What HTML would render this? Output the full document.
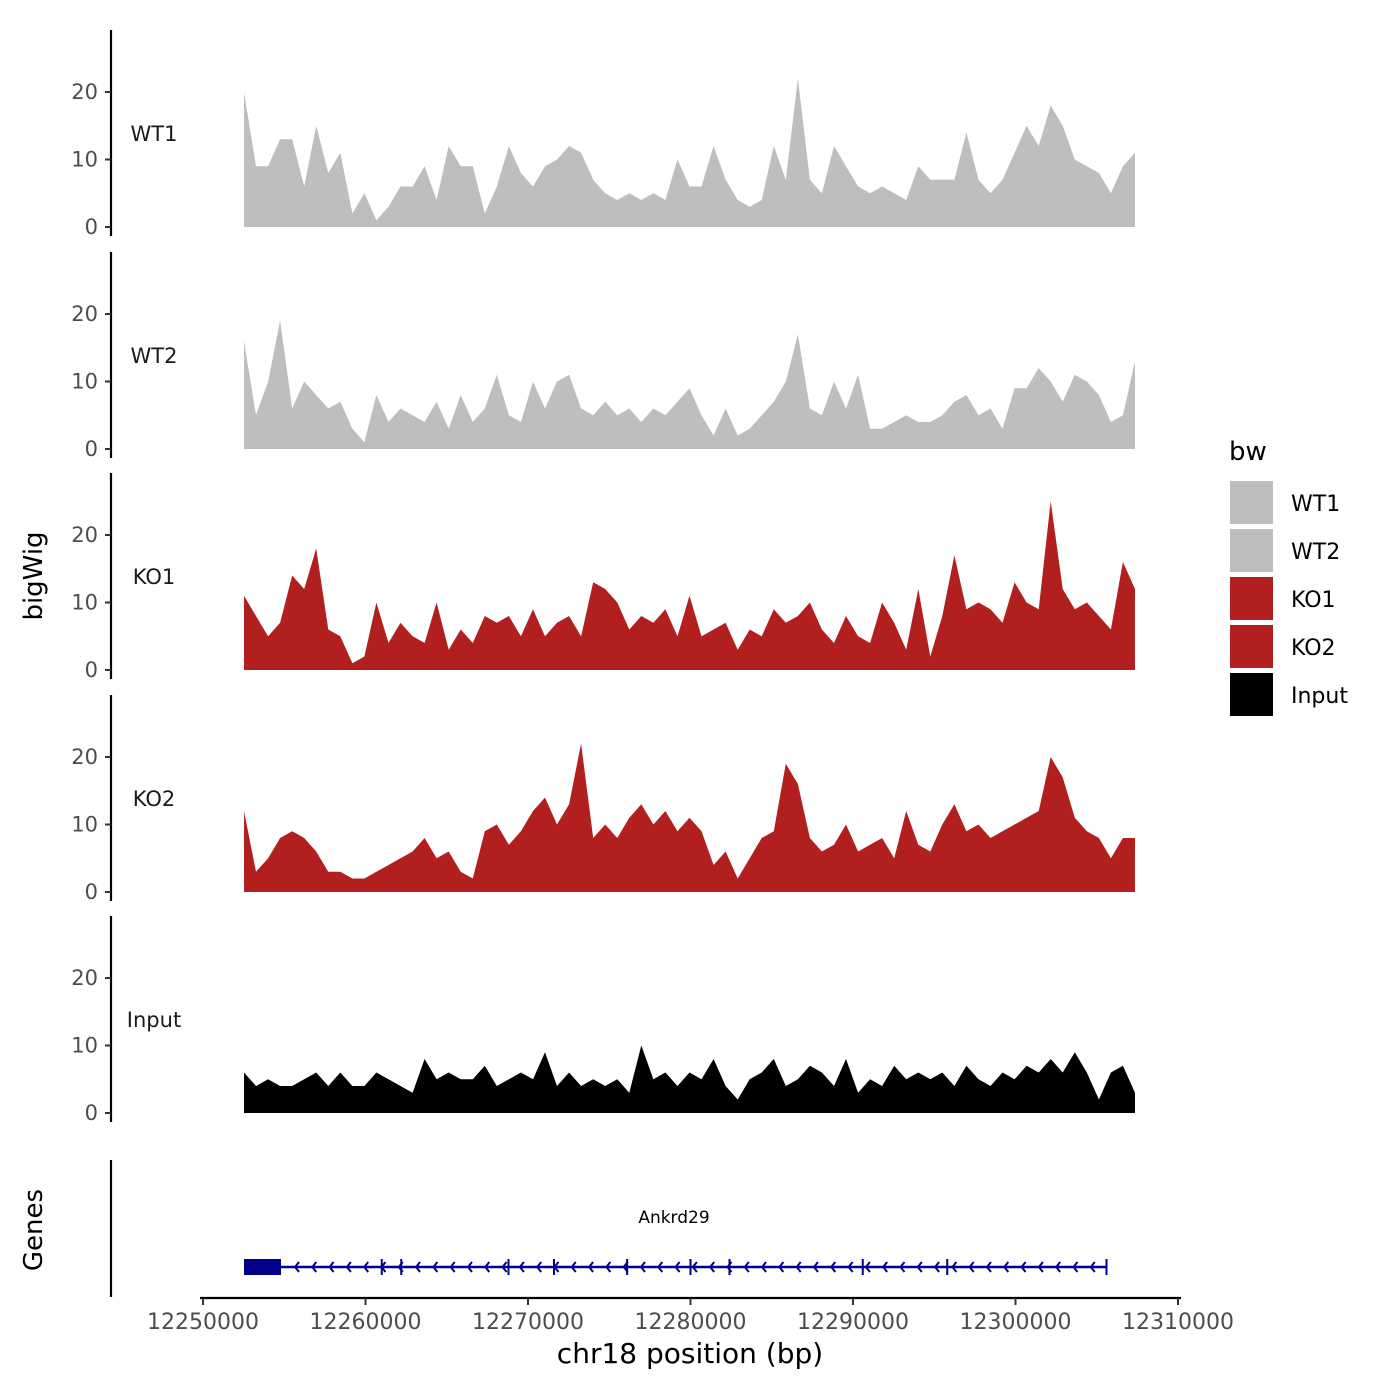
<!DOCTYPE html>
<html><head><meta charset="utf-8">
<style>
html,body{margin:0;padding:0;background:#fff;}
svg{display:block;font-family:"DejaVu Sans","Liberation Sans",sans-serif;}
</style></head>
<body>
<svg id="chart" width="1400" height="1400" viewBox="0 0 1400 1400" xmlns="http://www.w3.org/2000/svg">
<rect width="1400" height="1400" fill="#fff"/>
<g id="panels"></g>
<g id="genes"></g>
<g id="xaxis"></g>
<text x="42" y="576" font-size="26" fill="#000" text-anchor="middle" transform="rotate(-90 42 576)">bigWig</text>
<text x="42" y="1230" font-size="26" fill="#000" text-anchor="middle" transform="rotate(-90 42 1230)">Genes</text>
<text x="690" y="1363" font-size="28" fill="#000" text-anchor="middle">chr18 position (bp)</text>
<g id="legend"></g>
</svg>
<script>
const NS="http://www.w3.org/2000/svg";
const trackNames=["WT1","WT2","KO1","KO2","Input"];
const trackColors=["#bebebe","#bebebe","#b21f1f","#b21f1f","#000000"];
const binStart=12252523, binEnd=12307353;
const wt1=[20,9,9,13,13,6,15,8,11,2,5,1,3,6,6,9,4,12,9,9,2,6,12,8,6,9,10,12,11,7,5,4,5,4,5,4,10,6,6,12,7,4,3,4,12,7,22,7,5,12,9,6,5,6,5,4,9,7,7,7,14,7,5,7,11,15,12,18,15,10,9,8,5,9,11];
const wt2=[16,5,10,19,6,10,8,6,7,3,1,8,4,6,5,4,7,3,8,4,6,11,5,4,10,6,10,11,6,5,7,5,6,4,6,5,7,9,5,2,6,2,3,5,7,10,17,6,5,10,6,11,3,3,4,5,4,4,5,7,8,5,6,3,9,9,12,10,7,11,10,8,4,5,13];
const ko1=[11,8,5,7,14,12,18,6,5,1,2,10,4,7,5,4,10,3,6,4,8,7,8,5,9,5,7,8,5,13,12,10,6,8,7,9,5,11,5,6,7,3,6,5,9,7,8,10,6,4,8,5,4,10,7,3,12,2,8,17,9,10,9,7,13,10,9,25,12,9,10,8,6,16,12];
const ko2=[12,3,5,8,9,8,6,3,3,2,2,3,4,5,6,8,5,6,3,2,9,10,7,9,12,14,10,13,22,8,10,8,11,13,10,12,9,11,9,4,6,2,5,8,9,19,16,8,6,7,10,6,7,8,5,12,7,6,10,13,9,10,8,9,10,11,12,20,17,11,9,8,5,8,8];
const inputVals=[6,4,5,4,4,5,6,4,6,4,4,6,5,4,3,8,5,6,5,5,7,4,5,6,5,9,4,6,4,5,4,5,3,10,5,6,4,6,5,8,4,2,5,6,8,4,5,7,6,4,8,3,5,4,7,5,6,5,6,4,7,5,4,6,5,7,6,8,6,9,6,2,6,7,3];
const yTicks=[0,10,20];
const xTicks=[12250000,12260000,12270000,12280000,12290000,12300000,12310000];
const geneName="Ankrd29";
const geneStart=12252523, geneEnd=12305600, geneThickEnd=12254800;
const exonPos=[12261000,12262200,12268800,12271600,12276100,12280000,12282400,12290600,12295800];

const series=[wt1,wt2,ko1,ko2,inputVals];
const zeros=[227,449,670,892,1113];
const pxPerUnit=6.75;
function xs(bp){return 203+(bp-12250000)*975/60000;}
function mk(tag,attrs,parent){const e=document.createElementNS(NS,tag);for(const k in attrs)e.setAttribute(k,attrs[k]);parent.appendChild(e);return e;}

const panels=document.getElementById('panels');
series.forEach((vals,si)=>{
  const z=zeros[si];
  const ys=v=>z-v*pxPerUnit;
  const g=mk('g',{},panels);
  
  
  const n=vals.length;
  let d='M'+xs(binStart)+','+z;
  vals.forEach((v,i)=>{const bp=binStart+(binEnd-binStart)*i/(n-1);d+=' L'+xs(bp).toFixed(1)+','+ys(v).toFixed(1);});
  d+=' L'+xs(binEnd)+','+z+' Z';
  const a=mk('path',{d:d,fill:trackColors[si]},g);
  
  
  const ax=mk('line',{x1:111,x2:111,y1:z-197,y2:z+9,stroke:'#000','stroke-width':2.2},g);
  
  
  yTicks.forEach(t=>{
    mk('line',{x1:105,x2:111,y1:ys(t),y2:ys(t),stroke:'#333','stroke-width':2},g);
    const tx=mk('text',{x:98,y:ys(t)+7,'font-size':21,fill:'#4d4d4d','text-anchor':'end'},g);
    tx.textContent=t;
    
    
  });
  const lb=mk('text',{x:154,y:z-86,'font-size':21,fill:'#1a1a1a','text-anchor':'middle'},g);
  lb.textContent=trackNames[si];
  
  
});

// genes
const gg=document.getElementById('genes');
const gax=mk('line',{x1:111,x2:111,y1:1160,y2:1297,stroke:'#000','stroke-width':2.2},gg);


const gl=mk('line',{x1:xs(geneStart),x2:xs(geneEnd),y1:1267,y2:1267,stroke:'#00008b','stroke-width':2.5},gg);


const th=mk('rect',{x:xs(geneStart),y:1259,width:xs(geneThickEnd)-xs(geneStart),height:16,fill:'#00008b'},gg);


for(let x=xs(geneThickEnd)+14;x<xs(geneEnd);x+=17.3){
  mk('path',{d:`M${x+4},${1262} L${x},${1267} L${x+4},${1272}`,stroke:'#00008b','stroke-width':2,fill:'none'},gg);
}
exonPos.concat([geneEnd]).forEach(p=>{
  const e=mk('line',{x1:xs(p),x2:xs(p),y1:1259,y2:1275,stroke:'#00008b','stroke-width':2},gg);
  
  
});
const gn=mk('text',{x:674,y:1223,'font-size':17,fill:'#000','text-anchor':'middle'},gg);
gn.textContent=geneName;



// x axis
const xa=document.getElementById('xaxis');
const xl=mk('line',{x1:200,x2:1181,y1:1298,y2:1298,stroke:'#000','stroke-width':2.2},xa);


xTicks.forEach(t=>{
  mk('line',{x1:xs(t),x2:xs(t),y1:1298,y2:1305,stroke:'#333','stroke-width':2},xa);
  const tx=mk('text',{x:xs(t),y:1329,'font-size':22,fill:'#4d4d4d','text-anchor':'middle'},xa);
  tx.textContent=t;
  
  
});

// legend
const lg=document.getElementById('legend');
const lt=mk('text',{x:1229,y:460,'font-size':26,fill:'#000'},lg);
lt.textContent='bw';


trackNames.forEach((nm,i)=>{
  const y=481+i*48;
  const g=mk('g',{},lg);
  
  
  mk('rect',{x:1230,y:y,width:43,height:43,fill:trackColors[i]},g);
  const t=mk('text',{x:1291,y:y+30,'font-size':22,fill:'#000'},g);
  t.textContent=nm;
});
</script>
</body></html>
